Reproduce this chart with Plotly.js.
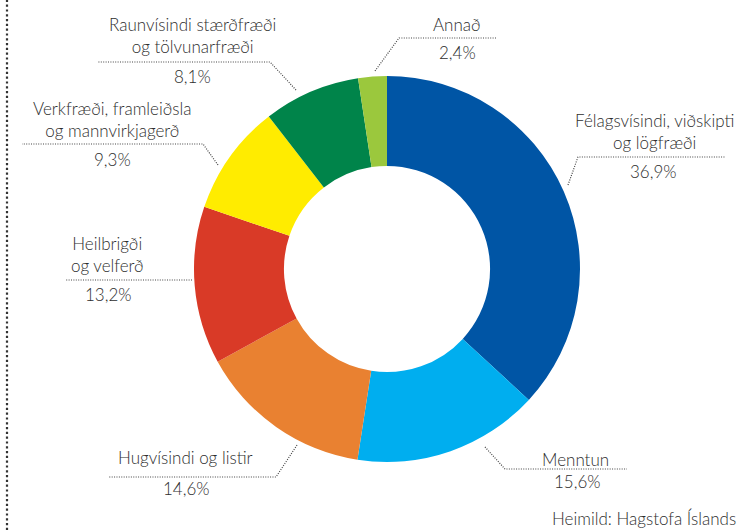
<!DOCTYPE html>
<html>
<head>
<meta charset="utf-8">
<script src="https://cdn.plot.ly/plotly-3.0.1.min.js"></script>
<style>html,body{margin:0;padding:0;background:#fff;}#chart{width:740px;height:530px;}</style>
</head>
<body>
<div id="chart"></div>
<script>
// ---- data ----
const categories = [
  "Félagsvísindi, viðskipti<br>og lögfræði",
  "Menntun",
  "Hugvísindi og listir",
  "Heilbrigði<br>og velferð",
  "Verkfræði, framleiðsla<br>og mannvirkjagerð",
  "Raunvísindi stærðfræði<br>og tölvunarfræði",
  "Annað"
];
const shares = [36.9, 15.6, 14.6, 13.2, 9.3, 8.1, 2.4];
const sourceText = "Heimild: Hagstofa Íslands";

// ---- styles / layout helpers ----
const sliceColors = ["#0055A5", "#00AEEF", "#E98131", "#D93A27", "#FFEC00", "#00844A", "#9BC83D"];
const W = 740, H = 530;
const FONT = "Lato, 'Open Sans', sans-serif";
const TXT = "#2e2e2e";
const px = x => x / W;
const py = y => 1 - y / H;

// label placement (pixels): name centre, percent centre, leader path points
const labelPos = [
  {nx: 654, ny: 131, vx: 653, vy: 172, pts: [[568,185],[578,157],[725,157]]},
  {nx: 575, ny: 459, vx: 577, vy: 481, pts: [[485,447],[505,469],[627,469]]},
  {nx: 185, ny: 457, vx: 186, vy: 488, pts: [[297,445],[276,477],[109,477]]},
  {nx: 107, ny: 254, vx: 108, vy: 294, pts: [[192,280],[65,280]]},
  {nx: 112, ny: 120, vx: 112, vy: 159, pts: [[218,165],[203,144],[22,144]]},
  {nx: 192, ny: 36,  vx: 192, vy: 77,  pts: [[296,90],[270,62],[97,62]]},
  {nx: 457, ny: 25,  vx: 457, vy: 53,  pts: [[375,71],[399,38],[496,38]]}
];

const fmt = v => v.toFixed(1).replace(".", ",") + "%";
const labelFont = {family: FONT, size: 17, color: TXT, weight: 300};

const trace = {
  type: "pie",
  values: shares,
  labels: categories,
  marker: {colors: sliceColors, line: {width: 0}},
  hole: 0.534,
  sort: false,
  direction: "clockwise",
  rotation: 0,
  textinfo: "none",
  hoverinfo: "label+value",
  showlegend: false,
  domain: {x: [px(194), px(580)], y: [py(462), py(76)]}
};

const annotations = [];
const shapes = [];
categories.forEach((c, i) => {
  const p = labelPos[i];
  annotations.push({xref: "paper", yref: "paper", x: px(p.nx), y: py(p.ny), text: c,
    showarrow: false, xanchor: "center", yanchor: "middle", align: "center",
    font: labelFont});
  annotations.push({xref: "paper", yref: "paper", x: px(p.vx), y: py(p.vy), text: fmt(shares[i]),
    showarrow: false, xanchor: "center", yanchor: "middle",
    font: labelFont});
  const path = p.pts.map((q, k) => (k ? "L" : "M") + px(q[0]) + "," + py(q[1])).join(" ");
  shapes.push({type: "path", xref: "paper", yref: "paper", path: path,
    line: {color: "#444", width: 1.2, dash: "1px,1.4px"}});
});
annotations.push({xref: "paper", yref: "paper", x: px(738), y: py(518), text: sourceText,
  showarrow: false, xanchor: "right", yanchor: "middle",
  font: labelFont});
shapes.push({type: "line", xref: "paper", yref: "paper", x0: px(7), x1: px(7), y0: 0, y1: 1,
  line: {color: "#333", width: 2.2, dash: "2.2px,2.6px"}});

const layout = {
  width: W, height: H,
  margin: {l: 0, r: 0, t: 0, b: 0},
  paper_bgcolor: "#fff",
  annotations: annotations,
  shapes: shapes
};

Plotly.newPlot("chart", [trace], layout, {displayModeBar: false, staticPlot: true});
</script>
</body>
</html>
